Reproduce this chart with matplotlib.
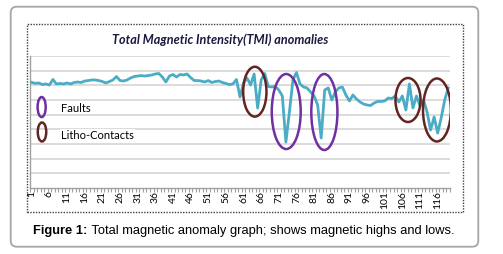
import matplotlib
matplotlib.use("Agg")
import matplotlib.pyplot as plt
from matplotlib.patches import Ellipse, FancyBboxPatch, Rectangle
import numpy as np

# ---------------- data ----------------
tmi = [108, 107, 107.4, 105.8, 106.4, 105.3, 111, 106.4, 106.9, 106.4,
       107.4, 106.4, 107.9, 108.4, 107.9, 109.4, 109.9, 110.5, 110.5, 109.9,
       108.9, 107.4, 108.9, 110.5, 114, 109.9, 109.4, 110.5, 112.5, 114,
       114.5, 115, 114.5, 115, 115.6, 116.6, 117.1, 113.5, 108.4, 114.5,
       116.1, 113.5, 116.1, 115.6, 116.6, 113, 109.9, 109.9, 109.4, 108.4,
       109.9, 107.9, 108.9, 109.4, 107.9, 106.9, 105.8, 106.4, 111, 93.1,
       107.4, 112.5, 105.3, 116.6, 81.8, 110.5, 117.1, 103.8, 103.3, 103.8,
       100.2, 94.1, 47, 77.7, 110.5, 118.1, 106.4, 103.3, 102.3, 98.2,
       94.1, 84.9, 51.1, 100.2, 102.3, 90, 98.2, 102.3, 103.3, 95.1,
       89, 95.1, 91, 88, 85.9, 84.9, 84.4, 86.9, 88.5, 88.5,
       89, 92, 91.5, 94.1, 88, 94.1, 79.8, 106.4, 81.8, 94.1,
       83.9, 90, 77.7, 59.3, 72.6, 56.2, 71.6, 90, 102.3]
stations = list(range(1, len(tmi) + 1))
tick_labels = [str(s) for s in stations if (s - 1) % 5 == 0]

# anomaly markers: (centre station, centre value, width, height)
faults = [(73.1, 78.2, 8.2, 76.7), (83.9, 77.7, 7.4, 77.7)]
contacts = [(64.2, 98.5, 6.6, 51), (107.6, 90, 7.1, 45), (115.8, 79.8, 7.9, 64.4)]

title = "Total Magnetic Intensity(TMI) anomalies"
caption_bold = "Figure 1:"
caption_rest = " Total magnetic anomaly graph; shows magnetic highs and lows."

LINE = "#4BACC6"
PURPLE = "#7030A0"
BROWN = "#632523"

W, H = 503, 254
fig = plt.figure(figsize=(W / 100, H / 100), dpi=100)
fig.patch.set_facecolor("white")

# outer rounded frame
frame = FancyBboxPatch((10.7 / 100, (H - 246.7) / 100), (478.3 - 10.7) / 100, (246.7 - 6.7) / 100,
                       boxstyle="round,pad=0,rounding_size=0.06",
                       transform=fig.dpi_scale_trans, facecolor="white",
                       edgecolor="#A6A6A6", linewidth=1.3, zorder=-10)
fig.patches.append(frame)
# dotted chart-area border
chart = Rectangle((26.7 / 100, (H - 211.7) / 100), (463.3 - 26.7) / 100, (211.7 - 24) / 100,
                  transform=fig.dpi_scale_trans, facecolor="none",
                  edgecolor="#404040", linewidth=1.0, linestyle=(0, (1, 1)), zorder=-5)
fig.patches.append(chart)

ax = fig.add_axes([30 / W, 1 - 188 / H, (450 - 30) / W, (188 - 56) / H])
ax.set_facecolor("none")
ax.set_xlim(0.5, len(tmi) + 0.5)
ax.set_ylim(0, 135)
ax.set_yticks(np.arange(15, 136, 15))
ax.yaxis.grid(True, color="#D9D9D9", linewidth=1.3)
ax.set_axisbelow(True)
ax.tick_params(axis="y", left=False, labelleft=False)
for s in ["top", "right"]:
    ax.spines[s].set_visible(False)
ax.spines["left"].set_color("#A0A0A0")
ax.spines["bottom"].set_color("#A0A0A0")
ax.spines["left"].set_linewidth(1.0)
ax.spines["bottom"].set_linewidth(1.0)

ax.set_xticks([s for s in stations if (s - 1) % 5 == 0])
ax.set_xticklabels(tick_labels, rotation=90, fontsize=7.5, family="Lato", va="top", ha="center")
ax.set_xticks(np.arange(0.5, len(tmi) + 1, 1), minor=True)
ax.tick_params(axis="x", which="major", length=0, pad=2)
ax.tick_params(axis="x", which="minor", length=3, color="#A0A0A0", width=0.8)

ax.plot(stations, tmi, color=LINE, linewidth=2.0, solid_joinstyle="round", zorder=3)

for cx, cy, w, h in faults:
    ax.add_patch(Ellipse((cx, cy), w, h, facecolor="none", edgecolor=PURPLE, linewidth=1.8, zorder=4))
for cx, cy, w, h in contacts:
    ax.add_patch(Ellipse((cx, cy), w, h, facecolor="none", edgecolor=BROWN, linewidth=1.8, zorder=4))

# legend-like annotations
ax.add_patch(Ellipse((3.8, 82.8), 2.3, 20.5, facecolor="none", edgecolor=PURPLE, linewidth=1.8, zorder=4))
ax.add_patch(Ellipse((3.9, 57.3), 2.4, 19.4, facecolor="none", edgecolor=BROWN, linewidth=1.8, zorder=4))
ax.text(9.3, 81.8, "Faults", fontsize=8, family="Lato", va="center", ha="left",
        bbox=dict(facecolor="white", edgecolor="none", pad=0.5), zorder=5)
ax.text(9.3, 54.2, "Litho-Contacts", fontsize=8, family="Lato", va="center", ha="left",
        bbox=dict(facecolor="white", edgecolor="none", pad=0.5), zorder=5)

fig.text(220 / W, 1 - 39.3 / H, title, fontsize=9.1, family="Lato", style="italic",
         weight="bold", color="#1A1A40", ha="center", va="center")

renderer = fig.canvas.get_renderer()
t1 = fig.text(33.3 / W, 1 - 231 / H, caption_bold, fontsize=9.25, family="Liberation Sans",
              weight="bold", ha="left", va="center", color="black")
bb = t1.get_window_extent(renderer)
fig.text(bb.x1 / W, 1 - 231 / H, caption_rest, fontsize=9.25, family="Liberation Sans",
         ha="left", va="center", color="black")

fig.savefig("out.png", dpi=100)
